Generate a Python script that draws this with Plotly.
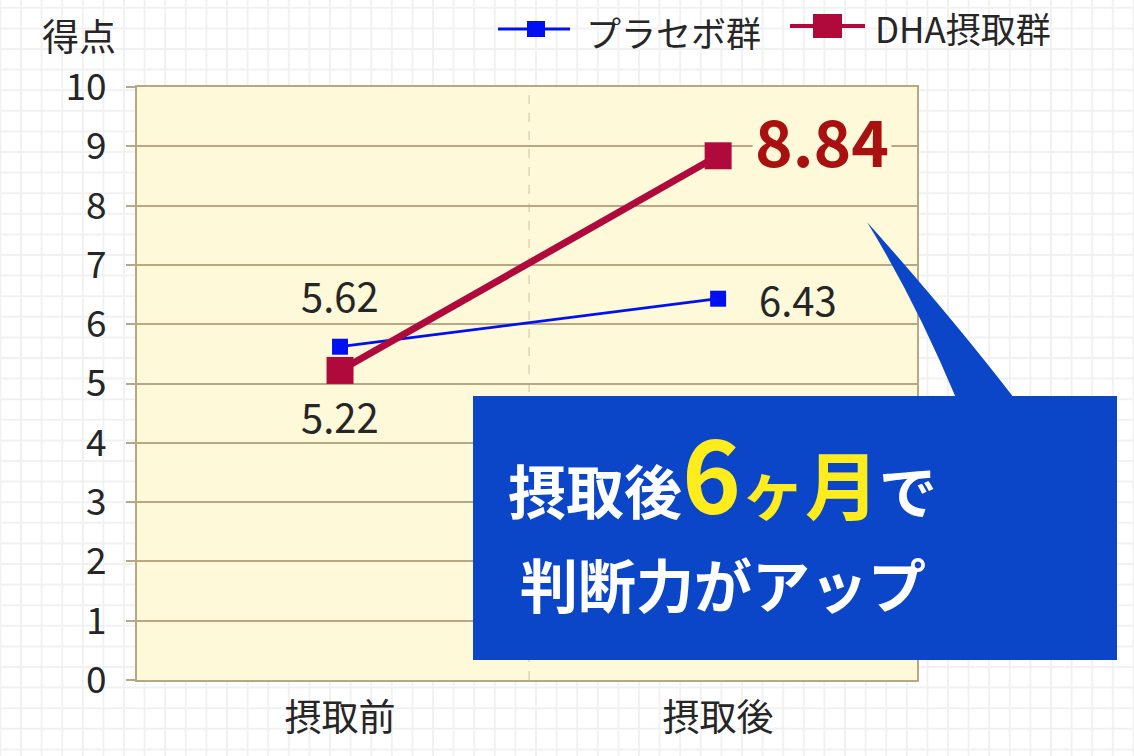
import plotly.graph_objects as go

# ---- data -------------------------------------------------------------
stages = ["摂取前", "摂取後"]
placebo_scores = [5.62, 6.43]
dha_scores = [5.22, 8.84]
series_names = ["プラセボ群", "DHA摂取群"]
y_tick_values = list(range(0, 11))
y_title = "得点"
callout_head = "摂取後"
callout_period = ["6", "ヶ", "月"]
callout_tail = "で"
callout_line2 = "判断力がアップ"

# ---- canvas geometry (pixels) -----------------------------------------
W, H = 1134, 756
ML, MR, MT, MB = 137, 217, 87, 76
PW, PH = W - ML - MR, H - MT - MB

FONT = "Noto Sans CJK JP"
BLUE = "#0010f0"
RED = "#b00a3c"
LABEL_RED = "#a8110f"
TAN = "#b7a783"
PLOT_BG = "#fdf9d9"
BOX_BLUE = "#0b46c9"
TEXT = "#262626"


def px(x):
    """pixel x -> paper x"""
    return (x - ML) / PW


def py(y):
    """pixel y (from top) -> paper y"""
    return (H - MB - y) / PH


fig = go.Figure()

fig.add_trace(go.Scatter(
    x=stages, y=placebo_scores, name=series_names[0],
    mode="lines+markers",
    line=dict(color=BLUE, width=2.8),
    marker=dict(symbol="square", size=16, color=BLUE),
    showlegend=False, hoverinfo="skip",
))
fig.add_trace(go.Scatter(
    x=stages, y=dha_scores, name=series_names[1],
    mode="lines+markers",
    line=dict(color=RED, width=7),
    marker=dict(symbol="square", size=27, color=RED),
    showlegend=False, hoverinfo="skip",
))

shapes = []

# light squared paper behind everything
step = 20.6
segs = []
x = 0.4
while x < W:
    segs.append(f"M{px(x):.5f},{py(0):.5f}L{px(x):.5f},{py(H):.5f}")
    x += step
y = 7.8
while y < H:
    segs.append(f"M{px(0):.5f},{py(y):.5f}L{px(W):.5f},{py(y):.5f}")
    y += step
shapes.append(dict(type="path", xref="paper", yref="paper", path="".join(segs),
                   line=dict(color="rgba(0,0,0,0.055)", width=2), layer="below"))
# plot area fill on top of the squared paper
shapes.append(dict(type="rect", xref="paper", yref="paper", x0=0, x1=1, y0=0, y1=1,
                   fillcolor=PLOT_BG, line=dict(width=0), layer="below"))
# dashed divider between the two stages
shapes.append(dict(type="line", xref="x", yref="paper", x0=0.5, x1=0.5, y0=0, y1=1,
                   line=dict(color="#d9c9a6", width=1.2, dash="dash"), layer="below"))

# legend glyphs
shapes.append(dict(type="line", xref="paper", yref="paper",
                   x0=px(498), x1=px(570), y0=py(29), y1=py(29),
                   line=dict(color=BLUE, width=3)))
shapes.append(dict(type="rect", xref="paper", yref="paper",
                   x0=px(527), x1=px(545), y0=py(21), y1=py(37),
                   fillcolor=BLUE, line=dict(width=0)))
shapes.append(dict(type="line", xref="paper", yref="paper",
                   x0=px(790), x1=px(865), y0=py(26), y1=py(26),
                   line=dict(color=RED, width=4)))
shapes.append(dict(type="rect", xref="paper", yref="paper",
                   x0=px(813), x1=px(842), y0=py(14), y1=py(38),
                   fillcolor=RED, line=dict(width=0)))

# speech-bubble callout
shapes.append(dict(type="rect", xref="paper", yref="paper",
                   x0=px(473), x1=px(1117), y0=py(660), y1=py(396),
                   fillcolor=BOX_BLUE, line=dict(width=0), layer="above"))
tail = (f"M{px(956):.5f},{py(398):.5f}"
        f"Q{px(915):.5f},{py(300):.5f} {px(867):.5f},{py(222):.5f}"
        f"Q{px(950):.5f},{py(315):.5f} {px(1014):.5f},{py(398):.5f}Z")
shapes.append(dict(type="path", xref="paper", yref="paper", path=tail,
                   fillcolor=BOX_BLUE, line=dict(width=0), layer="above"))

annotations = []

# legend labels
annotations.append(dict(xref="paper", yref="paper", x=px(584), y=py(31),
                        text=series_names[0], showarrow=False, xanchor="left",
                        yanchor="middle", font=dict(family=FONT, size=35, color=TEXT)))
annotations.append(dict(xref="paper", yref="paper", x=px(873), y=py(28),
                        text=series_names[1], showarrow=False, xanchor="left",
                        yanchor="middle", font=dict(family=FONT, size=35, color=TEXT)))

# y-axis caption
annotations.append(dict(xref="paper", yref="paper", x=px(79), y=py(35),
                        text=y_title, showarrow=False, xanchor="center",
                        yanchor="middle", font=dict(family=FONT, size=37, color=TEXT)))

# value labels
annotations.append(dict(xref="x", yref="y", x=stages[0], y=placebo_scores[0],
                        text=f"{placebo_scores[0]:.2f}", showarrow=False,
                        yshift=52, font=dict(family=FONT, size=40, color=TEXT)))
annotations.append(dict(xref="x", yref="y", x=stages[0], y=dha_scores[0],
                        text=f"{dha_scores[0]:.2f}", showarrow=False,
                        yshift=-46, font=dict(family=FONT, size=40, color=TEXT)))
annotations.append(dict(xref="x", yref="y", x=stages[1], y=placebo_scores[1],
                        text=f"{placebo_scores[1]:.2f}", showarrow=False,
                        xshift=80, yshift=0, font=dict(family=FONT, size=40, color=TEXT)))
annotations.append(dict(xref="x", yref="y", x=stages[1], y=dha_scores[1],
                        text=f"<b>{dha_scores[1]:.2f}</b>", showarrow=False,
                        xshift=104, yshift=17, bgcolor=PLOT_BG, borderpad=2,
                        font=dict(family=FONT, size=64, color=LABEL_RED)))

# callout text
yellow = "#ffec1c"
line1 = (f"<b>{callout_head}"
         f"<span style='color:{yellow};font-size:100px'>{callout_period[0]}</span>"
         f"<span style='color:{yellow};font-size:64px'>{callout_period[1]}</span>"
         f"<span style='color:{yellow};font-size:74px'>{callout_period[2]}</span>"
         f"{callout_tail}</b>")
annotations.append(dict(xref="paper", yref="paper", x=px(722), y=py(470),
                        text=line1, showarrow=False, xanchor="center", yanchor="middle",
                        font=dict(family=FONT, size=58, color="white")))
annotations.append(dict(xref="paper", yref="paper", x=px(723), y=py(583),
                        text=f"<b>{callout_line2}</b>", showarrow=False,
                        xanchor="center", yanchor="middle",
                        font=dict(family=FONT, size=58, color="white")))

fig.update_layout(
    width=W, height=H,
    margin=dict(l=ML, r=MR, t=MT, b=MB, autoexpand=False),
    paper_bgcolor="white",
    plot_bgcolor=PLOT_BG,
    showlegend=False,
    shapes=shapes,
    annotations=annotations,
    xaxis=dict(
        type="category", range=[-0.537, 1.526],
        showgrid=False, zeroline=False,
        showline=True, mirror=True, linecolor=TAN, linewidth=2,
        ticks="", tickfont=dict(family=FONT, size=37, color=TEXT),
        ticklabelstandoff=5,
    ),
    yaxis=dict(
        range=[0, 10], tickvals=y_tick_values,
        showgrid=True, gridcolor=TAN, gridwidth=2, zeroline=False,
        showline=True, mirror=True, linecolor=TAN, linewidth=2,
        ticks="outside", ticklen=9, tickcolor=TAN, tickwidth=2,
        tickfont=dict(family=FONT, size=37, color=TEXT),
        ticklabelstandoff=12,
    ),
)

fig.write_html("out.html")
